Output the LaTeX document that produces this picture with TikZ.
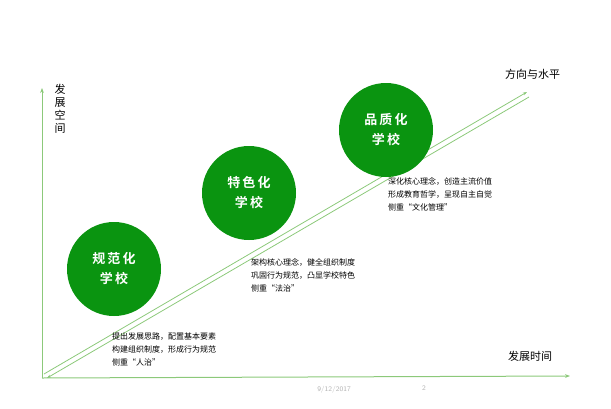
\documentclass[tikz,border=0pt]{standalone}
\usepackage{fontspec}
\newfontfamily\cjk{Noto Sans CJK SC}
\newfontfamily\cjkb{Noto Sans CJK SC Bold}
\usetikzlibrary{arrows.meta}
\definecolor{gc}{HTML}{0A9410}
\definecolor{lg}{HTML}{8CC97A}
\begin{document}
\begin{tikzpicture}[x=1pt,y=-1pt,
  ball/.style={circle,fill=gc,minimum size=94pt,inner sep=0pt,text=white,font=\cjkb\fontsize{13}{20}\selectfont,align=center},
  desc/.style={anchor=north west,font=\cjk\fontsize{8}{13}\selectfont,align=left,inner sep=0pt},
  ax/.style={draw=lg,line width=1pt,-{Stealth[length=5pt]}},
  lbl/.style={font=\cjk\fontsize{11}{12}\selectfont,inner sep=0pt}]
\useasboundingbox (0,0) rectangle (611,408);
\coordinate (o) at (42,378);
\coordinate (yt) at (42,88);
\coordinate (xt) at (570,376);
\draw[ax] (o) -- (yt);
\draw[ax] (o) -- (xt);
\coordinate (d1a) at (44,374);
\coordinate (d1b) at (527,92);
\coordinate (d2a) at (47,378);
\coordinate (d2b) at (529,97);
\draw[draw=lg,line width=0.8pt,-{Stealth[length=4pt]}] (d1a) -- (d1b);
\draw[draw=lg,line width=0.8pt,{Stealth[length=4pt]}-] (d2a) -- (d2b);
\node[ball] (c1) at (114,269) {规\,范\,化\\学\,校};
\node[ball] (c2) at (249,193) {特\,色\,化\\学\,校};
\node[ball] (c3) at (386,130) {品\,质\,化\\学\,校};
\node[desc] (t1) at (112,333) {提出发展思路，配置基本要素\\ 构建组织制度，形成行为规范\\侧重“人治”};
\node[desc] (t2) at (251,258) {架构核心理念，健全组织制度\\巩固行为规范，凸显学校特色\\侧重“法治”};
\node[desc] (t3) at (388,177) {深化核心理念，创造主流价值\\形成教育哲学，呈现自主自觉\\侧重“文化管理”};
\node[lbl,anchor=west] (ly) at (505,74) {方向与水平};
\node[lbl,anchor=west] (lx) at (508,356) {发展时间};
\node[lbl,align=center,anchor=north,font=\cjk\fontsize{11}{13}\selectfont] (lv) at (60,84) {发\\展\\空\\间};
\node[font=\sffamily\fontsize{7}{8}\selectfont,text=gray!60] (dt) at (334,390) {9/12/2017};
\node[font=\sffamily\fontsize{7}{8}\selectfont,text=gray!60] (pg) at (424,388) {2};
\end{tikzpicture}
\end{document}
